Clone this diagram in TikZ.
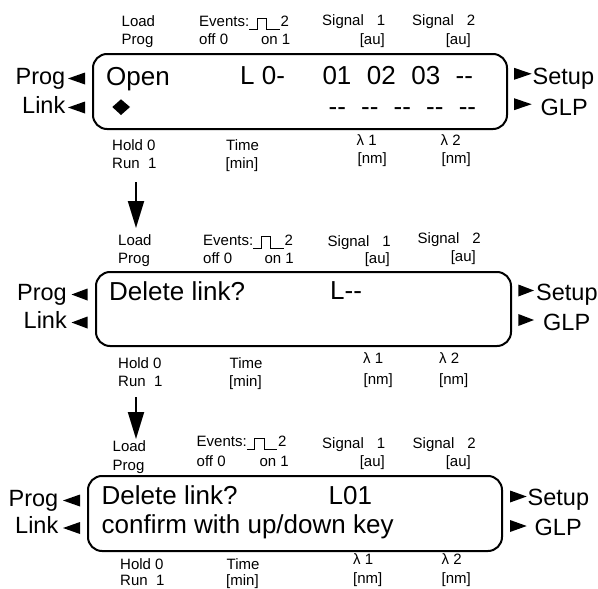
\documentclass[tikz,border=0pt]{standalone}
\usepackage{fontspec}
\setmainfont{Liberation Sans}
\usetikzlibrary{arrows.meta}
\newcommand{\dsh}{-\kern0pt-}
\tikzset{
  sm/.style={font=\fontsize{15}{17}\selectfont, inner sep=0pt},
  bg/.style={font=\fontsize{26}{28}\selectfont, inner sep=0pt},
  sd/.style={font=\fontsize{23.5}{25}\selectfont, inner sep=0pt},
  panel/.style={draw, line width=2pt, rounded corners=14pt, inner sep=0pt},
  tri/.style={fill=black},
  pulse/.style={line width=0.9pt},
  arr/.style={line width=2pt, -{Triangle[length=27pt,width=16pt]}}
}
\begin{document}
\begin{tikzpicture}[x=1pt,y=-1pt]
\useasboundingbox (0,0) rectangle (598,589);

% ================= Panel 1 =================
\node[panel, minimum width=414pt, minimum height=75pt] (p1) at (300,91.5) {};
\node[sm, anchor=base west] (p1load) at (121.5,27) {Load};
\node[sm, anchor=base west] (p1prog) at (121.5,45) {Prog};
\node[sm, anchor=base west] (p1ev) at (199,26.7) {Events:};
\draw[pulse] ([yshift=-3pt]p1ev.base east) -- ++(8,0) -- ++(0,-11.5) -- ++(9.5,0) -- ++(0,11.5) -- ++(13,0) coordinate (p1pe);
\node[sm, anchor=base west, yshift=3pt, xshift=0.5pt] (p1ev2) at (p1pe) {2};
\node[sm, anchor=base west] (p1off) at (199,45) {off 0};
\node[sm, anchor=base east] (p1on) at (290.5,45) {on 1};
\node[sm, anchor=base west] (p1s1) at (322,26) {Signal\hspace{13pt}1};
\node[sm, anchor=base east] (p1au1) at (385,44) {[au]};
\node[sm, anchor=base west] (p1s2) at (412,26) {Signal\hspace{13pt}2};
\node[sm, anchor=base east] (p1au2) at (471,44) {[au]};
\node[bg, anchor=base west] (p1open) at (106,85) {Open};
\node[bg, anchor=base west] (p1l) at (240,84) {L 0-};
\node[bg, anchor=base west] (p1nums) at (322.3,84) {01\hspace{15.5pt}02\hspace{15.5pt}03\hspace{15.5pt}\dsh};
\node[bg, anchor=base west] (p1dash) at (328.5,115) {\dsh\hspace{15.2pt}\dsh\hspace{15.2pt}\dsh\hspace{15.2pt}\dsh\hspace{15.2pt}\dsh};
\fill (112.3,107) -- (121,99.3) -- (130,107) -- (121,115) -- cycle;
\node[sd, anchor=base east] (p1sprog) at (65.5,84) {Prog};
\node[sd, anchor=base east] (p1slink) at (65.5,113.3) {Link};
\fill[tri] (68,78.5) -- (85,72.5) -- (85,84.5) -- cycle;
\fill[tri] (68,107.5) -- (85,101.5) -- (85,113.5) -- cycle;
\node[sd, anchor=base west] (p1setup) at (532.5,84) {Setup};
\node[sd, anchor=base west] (p1glp) at (540.5,115) {GLP};
\fill[tri] (531.7,73.8) -- (514,67.8) -- (514,79.8) -- cycle;
\fill[tri] (531.7,104.2) -- (514,98.2) -- (514,110.2) -- cycle;
\node[sm, anchor=base west] (p1hold) at (112,150) {Hold 0};
\node[sm, anchor=base west] (p1run) at (112,168) {Run\hspace{8.5pt}1};
\node[sm, anchor=base west] (p1time) at (226,150) {Time};
\node[sm, anchor=base west] (p1min) at (225.5,168) {[min]};
\node[sm, anchor=base west] (p1la1) at (356.5,145) {λ 1};
\node[sm, anchor=base west] (p1nm1) at (357.5,163) {[nm]};
\node[sm, anchor=base west] (p1la2) at (440.5,145) {λ 2};
\node[sm, anchor=base west] (p1nm2) at (441.5,163) {[nm]};

% arrow 1
\coordinate (a1s) at (136,182);
\coordinate (a1e) at (136,228);
\draw[arr] (a1s) -- (a1e);

% ================= Panel 2 =================
\node[panel, minimum width=415pt, minimum height=74pt] (p2) at (303.5,309) {};
\node[sm, anchor=base west] (p2load) at (118,245) {Load};
\node[sm, anchor=base west] (p2prog) at (118,263.3) {Prog};
\node[sm, anchor=base west] (p2ev) at (203,245) {Events:};
\draw[pulse] ([yshift=-3pt]p2ev.base east) -- ++(8,0) -- ++(0,-11.5) -- ++(9.5,0) -- ++(0,11.5) -- ++(13,0) coordinate (p2pe);
\node[sm, anchor=base west, yshift=3pt, xshift=0.5pt] (p2ev2) at (p2pe) {2};
\node[sm, anchor=base west] (p2off) at (203,263) {off 0};
\node[sm, anchor=base east] (p2on) at (294,263) {on 1};
\node[sm, anchor=base west] (p2s1) at (327.5,246) {Signal\hspace{13pt}1};
\node[sm, anchor=base east] (p2au1) at (390,263) {[au]};
\node[sm, anchor=base west] (p2s2) at (417.5,243.3) {Signal\hspace{13pt}2};
\node[sm, anchor=base east] (p2au2) at (476,261) {[au]};
\node[bg, anchor=base west] (p2del) at (109,300) {Delete link?};
\node[bg, anchor=base west] (p2l) at (330,299.5) {L\dsh};
\node[sd, anchor=base east] (p2sprog) at (67,300) {Prog};
\node[sd, anchor=base east] (p2slink) at (67,328.3) {Link};
\fill[tri] (71.5,294.5) -- (87.5,288.5) -- (87.5,300.5) -- cycle;
\fill[tri] (71.5,322.5) -- (87.5,316.5) -- (87.5,328.5) -- cycle;
\node[sd, anchor=base west] (p2setup) at (536,300) {Setup};
\node[sd, anchor=base west] (p2glp) at (543,330) {GLP};
\fill[tri] (534,290.5) -- (518.3,284.5) -- (518.3,296.5) -- cycle;
\fill[tri] (534,320) -- (518.3,314) -- (518.3,326) -- cycle;
\node[sm, anchor=base west] (p2hold) at (118,368.3) {Hold 0};
\node[sm, anchor=base west] (p2run) at (118,386.7) {Run\hspace{8.5pt}1};
\node[sm, anchor=base west] (p2time) at (229.5,368) {Time};
\node[sm, anchor=base west] (p2min) at (229,386) {[min]};
\node[sm, anchor=base west] (p2la1) at (363,363.3) {λ 1};
\node[sm, anchor=base west] (p2nm1) at (363.5,384) {[nm]};
\node[sm, anchor=base west] (p2la2) at (439,363) {λ 2};
\node[sm, anchor=base west] (p2nm2) at (439,384) {[nm]};

% arrow 2
\coordinate (a2s) at (136,397);
\coordinate (a2e) at (136,439);
\draw[arr] (a2s) -- (a2e);

% ================= Panel 3 =================
\node[panel, minimum width=414pt, minimum height=75pt] (p3) at (295,513.5) {};
\node[sm, anchor=base west] (p3load) at (112.5,451.7) {Load};
\node[sm, anchor=base west] (p3prog) at (112.5,470) {Prog};
\node[sm, anchor=base west] (p3ev) at (196.5,446.7) {Events:};
\draw[pulse] ([yshift=-3pt]p3ev.base east) -- ++(8,0) -- ++(0,-11.5) -- ++(9.5,0) -- ++(0,11.5) -- ++(13,0) coordinate (p3pe);
\node[sm, anchor=base west, yshift=3pt, xshift=0.5pt] (p3ev2) at (p3pe) {2};
\node[sm, anchor=base west] (p3off) at (196.5,466) {off 0};
\node[sm, anchor=base east] (p3on) at (289,466) {on 1};
\node[sm, anchor=base west] (p3s1) at (322,448.3) {Signal\hspace{13pt}1};
\node[sm, anchor=base east] (p3au1) at (385,466.7) {[au]};
\node[sm, anchor=base west] (p3s2) at (412.5,448) {Signal\hspace{13pt}2};
\node[sm, anchor=base east] (p3au2) at (471,466) {[au]};
\node[bg, anchor=base west] (p3del) at (101.5,504.5) {Delete link?};
\node[bg, anchor=base west] (p3l) at (328.5,504.5) {L01};
\node[bg, anchor=base west] (p3conf) at (101.5,533) {confirm with up/down key};
\node[sd, anchor=base east] (p3sprog) at (58.5,506) {Prog};
\node[sd, anchor=base east] (p3slink) at (58.5,533.3) {Link};
\fill[tri] (63,500.5) -- (80,494.5) -- (80,506.5) -- cycle;
\fill[tri] (63,528) -- (80,522) -- (80,534) -- cycle;
\node[sd, anchor=base west] (p3setup) at (527.5,505) {Setup};
\node[sd, anchor=base west] (p3glp) at (534.5,535) {GLP};
\fill[tri] (526.7,496.5) -- (510,490.5) -- (510,502.5) -- cycle;
\fill[tri] (526.7,526) -- (510,520) -- (510,532) -- cycle;
\node[sm, anchor=base west] (p3hold) at (120,569) {Hold 0};
\node[sm, anchor=base west] (p3run) at (120,585.5) {Run\hspace{8.5pt}1};
\node[sm, anchor=base west] (p3time) at (226.5,569) {Time};
\node[sm, anchor=base west] (p3min) at (226,585.5) {[min]};
\node[sm, anchor=base west] (p3la1) at (353,564.5) {λ 1};
\node[sm, anchor=base west] (p3nm1) at (353,583.5) {[nm]};
\node[sm, anchor=base west] (p3la2) at (441.5,564.5) {λ 2};
\node[sm, anchor=base west] (p3nm2) at (441.5,583.5) {[nm]};
\end{tikzpicture}
\end{document}
